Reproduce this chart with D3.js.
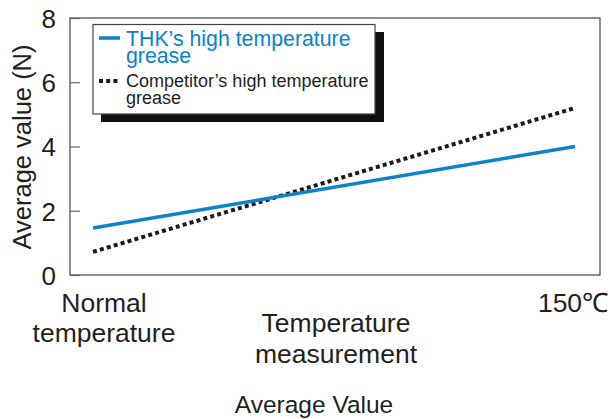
<!DOCTYPE html>
<html><head><meta charset="utf-8">
<script src="https://cdn.jsdelivr.net/npm/d3@7"></script>
<style>body{margin:0;background:#fff;} text{font-family:"Liberation Sans",Arial,sans-serif;}</style>
</head><body><svg id="c" width="611" height="419"></svg>
<script>
const categories = ["Normal temperature", "150℃"];
const thkValues = [1.46, 4.0];
const competitorValues = [0.72, 5.2];
const yTicks = [0, 2, 4, 6, 8];
const seriesNames = ["THK’s high temperature grease", "Competitor’s high temperature grease"];

const svg = d3.select("#c");
const L = 70, R = 600, T = 18, B = 275;
const x = d3.scalePoint().domain(categories).range([93, 575]);
const y = d3.scaleLinear().domain([0, 8]).range([B, T]);
const blue = "#0a83cb";
const ink = "#231f20";

// frame
svg.append("rect").attr("x", L).attr("y", T).attr("width", R - L).attr("height", B - T)
  .attr("fill", "none").attr("stroke", "#444").attr("stroke-width", 1.2);

// y axis
const ya = svg.append("g").attr("transform", `translate(${L},0)`)
  .call(d3.axisRight(y).tickValues(yTicks).tickSize(10).tickFormat(d3.format("d")));
ya.select(".domain").remove();
ya.selectAll(".tick line").attr("stroke", "#666").attr("stroke-width", 1.2);
ya.selectAll(".tick text").attr("x", -14).attr("dy", "0.36em").attr("text-anchor", "end")
  .attr("font-size", 26).attr("fill", ink).attr("font-family", "Liberation Sans, Arial, sans-serif");

svg.append("text").attr("transform", "translate(31,147) rotate(-90)")
  .attr("text-anchor", "middle").attr("font-size", 25.5).attr("fill", ink)
  .text("Average value (N)");

// x labels
const xl = svg.append("g");
xl.append("text").attr("y", 312).attr("text-anchor", "middle")
  .attr("font-size", 26.5).attr("fill", ink)
  .selectAll("tspan").data(["Normal", "temperature"]).join("tspan")
  .attr("x", x(categories[0]) + 11).attr("dy", (d, i) => i ? 30 : 0).text(d => d);
xl.append("text").attr("x", x(categories[1]) - 2).attr("y", 312).attr("text-anchor", "middle")
  .attr("font-size", 26.5).attr("fill", ink).text(categories[1]);

svg.append("text").attr("y", 332).attr("text-anchor", "middle")
  .attr("font-size", 26.5).attr("fill", ink)
  .selectAll("tspan").data(["Temperature", "measurement"]).join("tspan")
  .attr("x", 336).attr("dy", (d, i) => i ? 31 : 0).text(d => d);

svg.append("text").attr("x", 314).attr("y", 413).attr("text-anchor", "middle")
  .attr("font-size", 24.5).attr("fill", ink).text("Average Value");

// lines
const line = d3.line().x((d, i) => x(categories[i])).y(d => y(d));
svg.append("path").datum(competitorValues).attr("d", line).attr("fill", "none")
  .attr("stroke", "#1a1a1a").attr("stroke-width", 4).attr("stroke-dasharray", "4,3.2");
svg.append("path").datum(thkValues).attr("d", line).attr("fill", "none")
  .attr("stroke", blue).attr("stroke-width", 3.5);

// legend
const lg = svg.append("g");
lg.append("rect").attr("x", 101).attr("y", 32).attr("width", 283).attr("height", 90).attr("fill", "#111");
lg.append("rect").attr("x", 93).attr("y", 24.5).attr("width", 282).attr("height", 89.5)
  .attr("fill", "#fff").attr("stroke", "#444").attr("stroke-width", 1.2);
lg.append("line").attr("x1", 99).attr("x2", 120).attr("y1", 38).attr("y2", 38)
  .attr("stroke", blue).attr("stroke-width", 3.5);
lg.append("line").attr("x1", 99).attr("x2", 120).attr("y1", 81).attr("y2", 81)
  .attr("stroke", "#1a1a1a").attr("stroke-width", 4).attr("stroke-dasharray", "4,3.2");
lg.append("text").attr("y", 46).attr("font-size", 21.3).attr("fill", blue)
  .selectAll("tspan").data(["THK’s high temperature", "grease"]).join("tspan")
  .attr("x", 126).attr("dy", (d, i) => i ? 17 : 0).text(d => d);
lg.append("text").attr("y", 87).attr("font-size", 18).attr("fill", ink)
  .selectAll("tspan").data(["Competitor’s high temperature", "grease"]).join("tspan")
  .attr("x", 126).attr("dy", (d, i) => i ? 16.5 : 0).text(d => d);
</script></body></html>
